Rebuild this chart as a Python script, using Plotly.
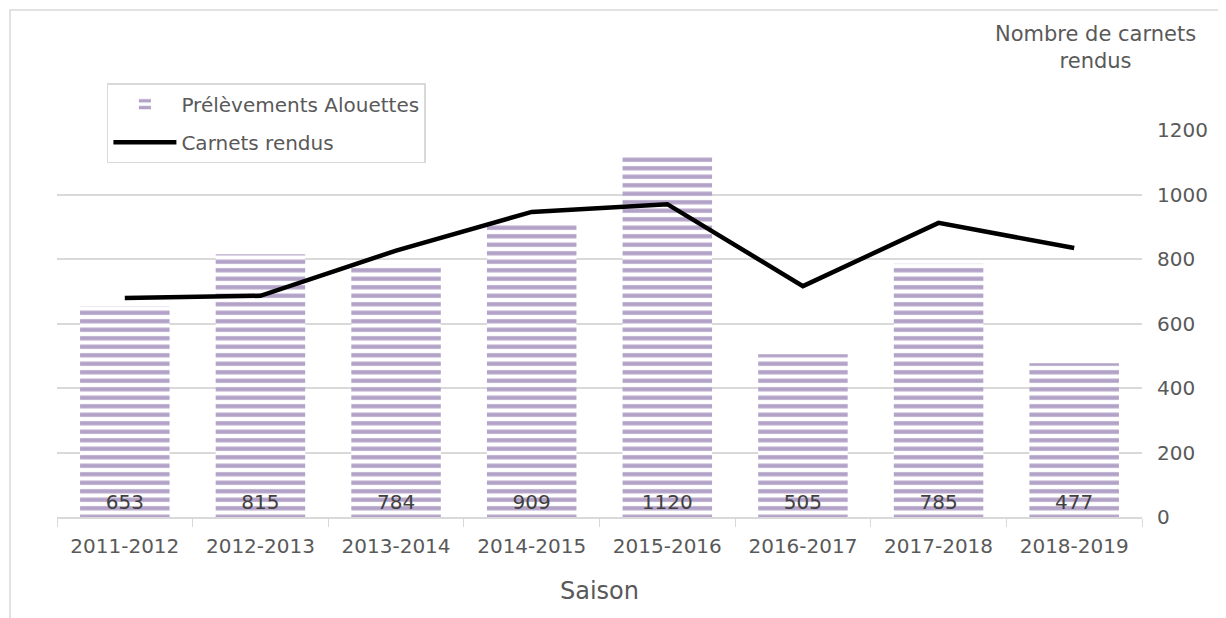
import plotly.graph_objects as go

# data
saisons = ['2011-2012', '2012-2013', '2013-2014', '2014-2015',
           '2015-2016', '2016-2017', '2017-2018', '2018-2019']
prelevements = [653, 815, 784, 909, 1120, 505, 785, 477]
carnets = [679, 686, 826, 946, 970, 716, 912, 834]

grey_txt = '#595959'
font = 'DejaVu Sans'

fig = go.Figure()
fig.add_trace(go.Bar(
    x=saisons, y=prelevements, name='Prélèvements Alouettes', legendgroup='a',
    text=prelevements, textposition='inside', insidetextanchor='start',
    textangle=0, textfont=dict(size=20, color='#404040', family=font),
    marker=dict(color='white', line=dict(width=0),
                pattern=dict(shape='-', fgcolor='#b3a2c7', bgcolor='white',
                             size=8.5, solidity=0.5, fillmode='replace')),
))
fig.add_trace(go.Scatter(
    x=saisons, y=carnets, name='Carnets rendus', mode='lines', legendgroup='b',
    line=dict(color='black', width=4.5),
))

# page body has an 8px margin, so the figure is a bit smaller than the window
fig.update_layout(
    width=1218, height=610,
    margin=dict(l=49, r=84, t=122, b=101, autoexpand=False),
    plot_bgcolor='white', paper_bgcolor='white',
    font=dict(family=font, size=20, color=grey_txt),
    bargap=0.34,
    showlegend=True,
    legend=dict(x=0.046, y=1.121, xanchor='left', yanchor='top',
                bgcolor='white', bordercolor='#d9d9d9', borderwidth=1.5,
                font=dict(size=20, color=grey_txt), tracegroupgap=9,
                itemwidth=63),
    xaxis=dict(title=dict(text='Saison', standoff=25), showline=True,
               linecolor='#d9d9d9', linewidth=1.5, ticks='outside',
               tickson='boundaries', ticklen=8, tickcolor='#d9d9d9',
               ticklabelstandoff=10, showgrid=False),
    yaxis=dict(side='right', range=[0, 1200], dtick=200,
               showgrid=True, gridcolor='#d9d9d9', gridwidth=1.5,
               zeroline=False, ticklabelstandoff=14, showline=False),
    shapes=[dict(type='rect', xref='paper', yref='paper',
                 x0=-0.0433, x1=1.3, y0=-1, y1=1.31,
                 line=dict(color='#d9d9d9', width=1.5))],
    annotations=[dict(text='Nombre de carnets<br>rendus', xref='paper', yref='paper',
                      x=0.957, y=1.214, xanchor='center', yanchor='middle',
                      showarrow=False, font=dict(size=21, color=grey_txt))],
)

fig.write_html('out.html')
